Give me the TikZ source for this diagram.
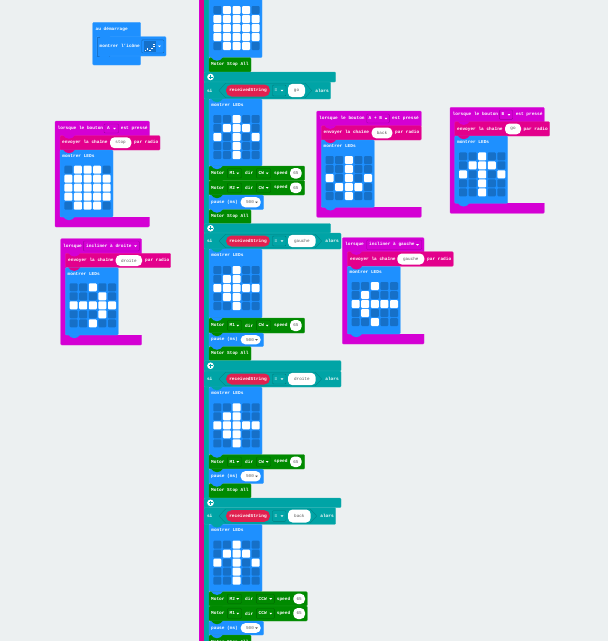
\documentclass[tikz,border=0pt]{standalone}
\usepackage{fontspec}
\setmainfont{Liberation Mono}[BoldFont={Liberation Mono Bold}]
\definecolor{bg}{HTML}{ECF0F1}
\definecolor{cblue}{HTML}{1E90FF}
\definecolor{coff}{HTML}{1670C8}
\definecolor{cmag}{HTML}{D400D4}
\definecolor{cpink}{HTML}{E3008C}
\definecolor{cteal}{HTML}{00A4A6}
\definecolor{cgreen}{HTML}{008A00}
\definecolor{cred}{HTML}{E0204F}
\tikzset{
  lbl/.style={anchor=west,inner sep=0pt,text=white,font=\fontsize{4.45}{5}\selectfont\bfseries},
  pilltxt/.style={anchor=center,inner sep=0pt,text=black!65,font=\fontsize{4.3}{5}\selectfont},
}
% x1 y1 x2 y2 colour
\newcommand\blk[5]{\fill[#5,draw=#5!85!white,line width=.35pt,rounded corners=1pt] (#1,#2) rectangle (#3,#4);}
% notch tab hanging from y
\newcommand\tabb[3]{\fill[#3] (#1+2.5,#2-.4) -- (#1+5,#2+2.2) to[out=-30,in=-150] (#1+12,#2+2.2) -- (#1+14.5,#2-.4) -- cycle;}
\newcommand\ddtri[3][white]{\fill[#1] ({#2-1.4},{#3-.7}) -- ({#2+1.4},{#3-.7}) -- ({#2},{#3+.9}) -- cycle;}
% x1 y1 x2 y2 colour: dropdown field
\newcommand\field[5]{\draw[#5!75!black,line width=.4pt,rounded corners=1pt] (#1,#2) rectangle (#3,#4);}
\newcommand\pill[5]{\fill[white,rounded corners=4.5pt] (#1,#2) rectangle (#3,#4); \node[pilltxt] at ({(#1+#3)/2},{(#2+#4)/2}) {#5};}
% x y list of 25
\newcommand\ledgrid[3]{%
  \foreach \v [count=\i from 0] in {#3} {%
    \pgfmathtruncatemacro\cc{mod(\i,5)}%
    \pgfmathtruncatemacro\rr{div(\i,5)}%
    \ifnum\v=1 \def\ledc{white}\else\def\ledc{coff}\fi
    \fill[\ledc,rounded corners=1pt] ({#1+9.6*\cc},{#2+9*\rr}) rectangle ({#1+9.6*\cc+8},{#2+9*\rr+8});
  }}
% LED block x y1 y2 (right = x+53) grid y
\newcommand\ledblock[5]{%
  \blk{#1}{#2}{#1+53}{#3}{cblue}
  \node[lbl] at (#1+2.2,#2+6.2) {montrer LEDs};
  \ledgrid{#1+4.3}{#4}{#5}}
% motor: y1 y2 x2 Mn dir fieldright speedx pillx1 pillx2
\newcommand\motor[9]{%
  \blk{209}{#1}{#3}{#2}{cgreen}
  \node[lbl] at (211,{(#1+#2)/2}) {Motor};
  \field{227.3}{#1+2.5}{241.5}{#2-2.5}{cgreen}
  \node[lbl] at (229.5,{(#1+#2)/2}) {#4};
  \ddtri{237.8}{(#1+#2)/2}
  \node[lbl] at (245,{(#1+#2)/2}) {dir};
  \field{256.3}{#1+2.5}{#6}{#2-2.5}{cgreen}
  \node[lbl] at (258.5,{(#1+#2)/2}) {#5};
  \ddtri{#6-3.5}{(#1+#2)/2}
  \node[lbl] at (#7,{(#1+#2)/2}) {speed};
  \pill{#8}{#1+2}{#9}{#2-2}{65}}
\newcommand\motorstop[2]{%
  \blk{209}{#1}{251}{#2}{cgreen}
  \node[lbl] at (211,{(#1+#2)/2}) {Motor Stop All};}
\newcommand\pausebk[2]{%
  \blk{209}{#1}{263.5}{#2}{cblue}
  \node[lbl] at (211,{(#1+#2)/2}) {pause (ms)};
  \pill{240.7}{#1+2.2}{260.7}{#2-2.2}{500\,\,}
  \ddtri[black!65]{256.5}{(#1+#2)/2}}
% +bar: y1 y2 barright; si: y2' siright pillright text alorsx chevronright
\newcommand\sibar[8]{%
  \blk{204}{#1}{#3}{#2}{cteal}
  \blk{204}{#2}{#4}{#5}{cteal}
  \fill[white] (210.5,{(#1+#2)/2}) circle (3.3);
  \draw[cteal,line width=.8pt] (208.5,{(#1+#2)/2}) -- (212.5,{(#1+#2)/2}) (210.5,{(#1+#2)/2-2}) -- (210.5,{(#1+#2)/2+2});
  \draw[cteal!80!black,line width=.35pt,fill=cteal] (219,{(#2+#5)/2}) -- (225.5,#2+1.3) -- (#8-6.5,#2+1.3) -- (#8,{(#2+#5)/2}) -- (#8-6.5,#5-1.3) -- (225.5,#5-1.3) -- cycle;
  \node[lbl] at (206.8,{(#2+#5)/2}) {si};
  \fill[cred,rounded corners=5.5pt] (226,#2+2.5) rectangle (270,#5-2.5);
  \node[lbl,anchor=center] at (248,{(#2+#5)/2}) {receivedString};
  \field{272.5}{#2+3}{286}{#5-3}{cteal}
  \node[lbl] at (274.5,{(#2+#5)/2}) {=};
  \ddtri{282}{(#2+#5)/2}
  \pill{288}{#2+1.8}{#6}{#5-1.8}{#7}
  \node[lbl] at (#8+3.5,{(#2+#5)/2}) {alors};
  \tabb{208.5}{#5}{cteal}}
\begin{document}
\begin{tikzpicture}[x=1pt,y=-1pt]
\useasboundingbox (0,0) rectangle (608,641);
\fill[bg] (0,0) rectangle (608,641);
% stem
\fill[cmag] (199,0) rectangle (200,641);
\fill[cpink] (199.6,0) rectangle (204,641);
\fill[cteal] (204,0) rectangle (209,641);
% top of stem
\blk{209}{-3}{262}{57.5}{cblue}
\ledgrid{213.3}{6}{0,1,1,1,0, 1,1,1,1,1, 1,1,1,1,1, 1,1,1,1,1, 0,1,1,1,0}
\motorstop{57.5}{72}
\tabb{208.5}{57.5}{cblue}
\sibar{72}{82}{335.7}{330.7}{99}{305}{go}{311.7}
\ledblock{209}{99}{166}{115}{0,0,1,0,0, 0,1,1,1,0, 1,0,1,0,1, 0,0,1,0,0, 0,0,1,0,0}
\tabb{208.5}{99}{cteal}
\motor{166}{180.5}{304.6}{M1}{CW}{270.7}{274}{290}{301.7}
\tabb{208.5}{166}{cblue}
\motor{180.5}{195}{304.6}{M2}{CW}{270.7}{274}{290}{301.7}
\tabb{208.5}{180.5}{cgreen}
\pausebk{195}{209.5}
\tabb{208.5}{195}{cgreen}
\motorstop{209.5}{223.5}
\tabb{208.5}{209.5}{cblue}
\sibar{223.5}{233}{330.7}{341}{249}{315.7}{gauche}{321.7}
\ledblock{209}{249}{318}{266}{0,0,1,0,0, 0,1,1,0,0, 1,1,1,1,1, 0,1,1,0,0, 0,0,1,0,0}
\tabb{208.5}{249}{cteal}
\motor{318}{333}{304.6}{M1}{CW}{270.7}{274}{290}{301.7}
\tabb{208.5}{318}{cblue}
\pausebk{333}{346.5}
\tabb{208.5}{333}{cgreen}
\motorstop{346.5}{360.5}
\tabb{208.5}{346.5}{cblue}
\sibar{360.5}{371}{341}{341}{387}{315.7}{droite}{321.7}
\ledblock{209}{387}{454.5}{403.3}{0,0,1,0,0, 0,1,1,0,0, 1,1,1,1,1, 0,1,1,0,0, 0,0,1,0,0}
\tabb{208.5}{387}{cteal}
\motor{454.5}{469}{304.6}{M1}{CW}{270.7}{274}{290}{301.7}
\tabb{208.5}{454.5}{cblue}
\pausebk{469}{483.5}
\tabb{208.5}{469}{cgreen}
\motorstop{483.5}{498}
\tabb{208.5}{483.5}{cblue}
\sibar{498}{507.7}{341}{335.7}{524.3}{310.7}{back}{316.7}
\ledblock{209}{524.3}{591.7}{540.7}{0,0,1,0,0, 0,1,1,1,0, 1,0,1,0,1, 0,0,1,0,0, 0,0,1,0,0}
\tabb{208.5}{524.3}{cteal}
\motor{591.7}{606}{307.3}{M2}{CCW}{274.3}{276.7}{293.3}{305}
\tabb{208.5}{591.7}{cblue}
\motor{606}{621}{307.3}{M1}{CCW}{274.3}{276.7}{293.3}{305}
\tabb{208.5}{606}{cgreen}
\pausebk{621}{635}
\tabb{208.5}{621}{cgreen}
\motorstop{635}{650}
\tabb{208.5}{635}{cblue}

% au demarrage
\blk{92.7}{22.3}{140.7}{65}{cblue}
\node[lbl] at (95.5,29) {au démarrage};
\blk{96.7}{36.5}{166}{56}{cblue}
\tabb{96}{36.2}{cblue}
\draw[cblue!80!black,line width=.3pt] (100,36.7) -- (96.9,36.7) -- (96.9,55.8) -- (110,55.8);
\tabb{96}{55.8}{cblue}
\node[lbl] at (99.5,46) {montrer l'icône};
\draw[cblue!70!black,line width=.4pt,rounded corners=1pt] (141.7,39.8) rectangle (164,53);
\fill[coff] (143.5,41) rectangle (155.5,52);
\foreach \px/\py in {144.5/50,146.7/48.2,148.9/50,151.1/48,153.3/46,153.3/43.5}{\fill[white] (\px,\py) rectangle (\px+1.6,\py+1.4);}
\ddtri{159.5}{46.3}

% stop
\blk{55}{121}{149.4}{227}{cmag}
\fill[bg] (60.5,136) rectangle (150,217);
\blk{60}{135.5}{160}{150}{cpink}
\ledblock{60}{150}{217}{165.7}{0,1,1,1,0, 1,1,1,1,1, 1,1,1,1,1, 1,1,1,1,1, 0,1,1,1,0}
\tabb{60.5}{135.5}{cmag}\tabb{60.5}{150}{cpink}\tabb{60.5}{217}{cblue}
\node[lbl] at (57.5,128.3) {lorsque le bouton};
\field{104}{124}{118.7}{133}{cmag}
\node[lbl] at (107,128.3) {A};
\ddtri{114.5}{128.5}
\node[lbl] at (120.7,128.3) {est pressé};
\node[lbl] at (62,142.7) {envoyer la chaîne};
\pill{110}{137.3}{131.3}{148.2}{stop}
\node[lbl] at (134,142.7) {par radio};

% droite
\blk{60.7}{238.7}{141.7}{345}{cmag}
\fill[bg] (66,254) rectangle (142,335);
\blk{65.3}{253.3}{170.7}{267.7}{cpink}
\ledblock{65.3}{267.7}{335}{283.3}{0,0,1,0,0, 0,0,0,1,0, 1,1,1,1,1, 0,0,0,1,0, 0,0,1,0,0}
\tabb{65.8}{253.3}{cmag}\tabb{65.8}{267.7}{cpink}\tabb{65.8}{335}{cblue}
\node[lbl] at (63,246) {lorsque};
\field{83.3}{241}{139.3}{251}{cmag}
\node[lbl] at (86,246) {incliner à droite};
\ddtri{135.5}{246}
\node[lbl] at (68,260.5) {envoyer la chaîne};
\pill{115.7}{255}{142}{266}{droite}
\node[lbl] at (145,260.5) {par radio};

% gauche
\blk{342.3}{237.7}{424}{344}{cmag}
\fill[bg] (348,252.5) rectangle (425,334);
\blk{347.3}{251.7}{453.3}{266.3}{cpink}
\ledblock{347.3}{266.3}{334}{282}{0,0,1,0,0, 0,1,0,0,0, 1,1,1,1,1, 0,1,0,0,0, 0,0,1,0,0}
\tabb{347.8}{251.7}{cmag}\tabb{347.8}{266.3}{cpink}\tabb{347.8}{334}{cblue}
\node[lbl] at (345,244.6) {lorsque};
\field{366.7}{240}{421.7}{249.5}{cmag}
\node[lbl] at (369,244.6) {incliner à gauche};
\ddtri{417.5}{244.8}
\node[lbl] at (350,259) {envoyer la chaîne};
\pill{397.3}{253.5}{424.3}{264.5}{gauche}
\node[lbl] at (427,259) {par radio};

% A+B
\blk{316.7}{111}{421.3}{217.3}{cmag}
\fill[bg] (322,126) rectangle (422,207.3);
\blk{321.3}{125.7}{421.3}{140}{cpink}
\ledblock{321.3}{140}{207.3}{156}{0,0,1,0,0, 0,0,1,0,0, 1,0,1,0,1, 0,1,1,1,0, 0,0,1,0,0}
\tabb{321.8}{125.7}{cmag}\tabb{321.8}{140}{cpink}\tabb{321.8}{207.3}{cblue}
\node[lbl] at (319,118.4) {lorsque le bouton};
\field{366.7}{114}{389.3}{123}{cmag}
\node[lbl] at (368.5,118.4) {A + B};
\ddtri{386}{118.5}
\node[lbl] at (392,118.4) {est pressé};
\node[lbl] at (323.5,132.8) {envoyer la chaîne};
\pill{371.7}{127.5}{392.3}{138.3}{back}
\node[lbl] at (395,132.8) {par radio};

% B
\blk{450}{107.3}{544.3}{213.3}{cmag}
\fill[bg] (455.5,122.5) rectangle (545,203.3);
\blk{454.7}{121.7}{549.7}{136}{cpink}
\ledblock{454.7}{136}{203.3}{152.3}{0,0,1,0,0, 0,1,1,1,0, 1,0,1,0,1, 0,0,1,0,0, 0,0,1,0,0}
\tabb{455.2}{121.7}{cmag}\tabb{455.2}{136}{cpink}\tabb{455.2}{203.3}{cblue}
\node[lbl] at (452.5,114.5) {lorsque le bouton};
\field{499.3}{110}{512.7}{119.3}{cmag}
\node[lbl] at (501.5,114.5) {B};
\ddtri{509}{114.7}
\node[lbl] at (515.6,114.5) {est pressé};
\node[lbl] at (457,129) {envoyer la chaîne};
\pill{505}{123.5}{521}{134.3}{go}
\node[lbl] at (523.5,129) {par radio};
\end{tikzpicture}
\end{document}
